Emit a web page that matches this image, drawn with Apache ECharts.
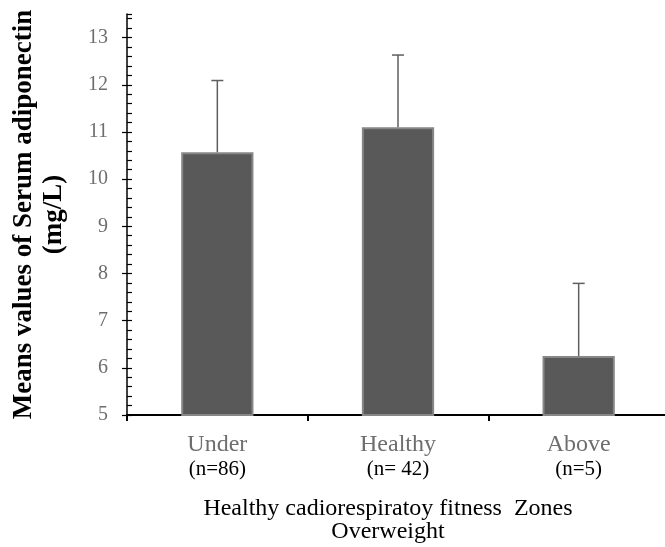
<!DOCTYPE html>
<html><head><meta charset="utf-8">
<script src="https://cdn.jsdelivr.net/npm/echarts@6/dist/echarts.min.js"></script>
<style>html,body{margin:0;padding:0;background:#fff}#c{width:665px;height:547px}</style>
</head><body><div id="c"></div>
<script>
const categories = ['Under', 'Healthy', 'Above'];
const nLabels = ['(n=86)', '(n= 42)', '(n=5)'];
const means = [10.57, 11.10, 6.25];
const errUp = [1.52, 1.53, 1.54];
const yTicks = [5, 6, 7, 8, 9, 10, 11, 12, 13];
const yMin = 5, yMax = 13.5;

const FONT = '"Liberation Serif", "Times New Roman", serif';
const chart = echarts.init(document.getElementById('c'));
chart.setOption({
  animation: false,
  grid: { left: 127, right: -4, top: 14, bottom: 132, outerBoundsMode: 'none', containLabel: false },
  xAxis: {
    type: 'category', data: categories,
    axisLine: { lineStyle: { color: '#000', width: 2 } },
    axisTick: { show: true, length: 6, lineStyle: { color: '#000', width: 2 } },
    axisLabel: {
      margin: 18,
      fontFamily: FONT,
      formatter: (v, i) => '{a|' + v + '}\n{b|' + nLabels[i] + '}',
      rich: {
        a: { fontFamily: FONT, fontSize: 24, color: '#6e6e6e', lineHeight: 24 },
        b: { fontFamily: FONT, fontSize: 21, color: '#000', lineHeight: 24 }
      }
    },
    name: 'Healthy cadiorespiratoy fitness  Zones\nOverweight',
    nameLocation: 'middle', nameGap: 82,
    nameTextStyle: { fontFamily: FONT, fontSize: 24, color: '#000', lineHeight: 23, padding: [0, 20, 0, 0] }
  },
  yAxis: [{
    type: 'value', min: yMin, max: yMax, interval: 1,
    axisLine: { show: true, lineStyle: { color: '#000', width: 1.5 } },
    axisTick: { show: true, length: 5, lineStyle: { color: '#000', width: 1.2 }, customValues: yTicks },
    axisLabel: { margin: 19, fontFamily: FONT, fontSize: 20, color: '#6e6e6e', customValues: yTicks },
    splitLine: { show: false },
    name: 'Means values of Serum adiponectin\n(mg/L)',
    nameLocation: 'middle', nameGap: 58,
    nameTextStyle: { fontFamily: FONT, fontSize: 27, fontWeight: 'bold', color: '#000', lineHeight: 30 }
  }, {
    type: 'value', min: yMin, max: yMax, interval: 0.2, position: 'left',
    axisLine: { show: false },
    axisTick: { show: true, inside: true, length: 5, lineStyle: { color: '#000', width: 1.2 } },
    axisLabel: { show: false },
    splitLine: { show: false }
  }],
  series: [{
    type: 'bar', data: means, barWidth: '40%',
    itemStyle: { color: '#595959', borderColor: '#878787', borderWidth: 2 }
  }, {
    type: 'custom',
    data: means.map((m, i) => [i, m, m + errUp[i]]),
    renderItem: (params, api) => {
      const p0 = api.coord([api.value(0), api.value(1)]);
      const p1 = api.coord([api.value(0), api.value(2)]);
      const st = { stroke: '#5f5f5f', lineWidth: 1.5 };
      return { type: 'group', children: [
        { type: 'line', shape: { x1: p0[0], y1: p0[1], x2: p1[0], y2: p1[1] }, style: st },
        { type: 'line', shape: { x1: p1[0] - 6, y1: p1[1], x2: p1[0] + 6, y2: p1[1] }, style: st }
      ]};
    },
    z: 5
  }]
});
</script></body></html>
